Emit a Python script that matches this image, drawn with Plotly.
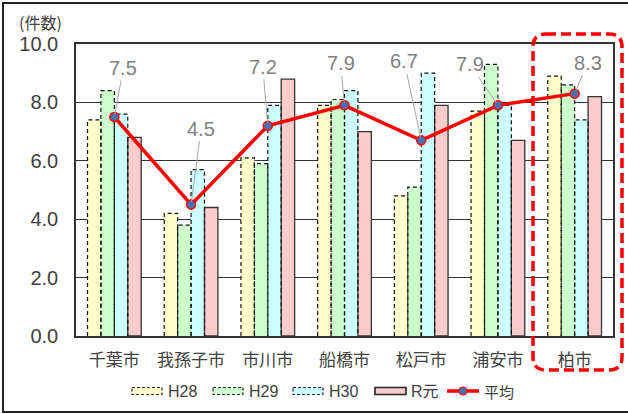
import plotly.graph_objects as go

# --- data -------------------------------------------------------------
cities = ["千葉市", "我孫子市", "市川市", "船橋市", "松戸市", "浦安市", "柏市"]
series_names = ["H28", "H29", "H30", "R元"]
h28 = [7.4, 4.2, 6.1, 7.9, 4.8, 7.7, 8.9]
h29 = [8.4, 3.8, 5.9, 8.1, 5.1, 9.3, 8.6]
h30 = [7.6, 5.7, 7.9, 8.4, 9.0, 7.9, 7.4]
r1 = [6.8, 4.4, 8.8, 7.0, 7.9, 6.7, 8.2]
average = [7.5, 4.5, 7.2, 7.9, 6.7, 7.9, 8.3]
avg_name = "平均"
y_ticks = [0, 2, 4, 6, 8, 10]

# --- styling ----------------------------------------------------------
fills = ["#FFFFCC", "#CCFFCC", "#CCFFFF", "#FFCCCC"]
dashed = [True, True, True, False]
BAR_W = 0.175
offsets = [-2 * BAR_W, -BAR_W, 0.0, BAR_W]
label_offsets = [(9, -49), (10, -76), (-5, -59), (-4, -42), (-17, -79), (-28, -41), (13, -31)]

LAT = "Liberation Sans, Arial, Noto Sans CJK JP"
CJK = "Noto Sans CJK JP, Liberation Sans"

W, H = 628, 414
PL, PT, PR, PB = 76, 44, 15, 78
PW, PH = W - PL - PR, H - PT - PB


def fx(p):
    return (p - PL) / PW


def fy(p):
    return (PT + PH - p) / PH


idx = list(range(len(cities)))
fig = go.Figure()

all_series = [h28, h29, h30, r1]
for name, vals, col, dsh, off in zip(series_names, all_series, fills, dashed, offsets):
    fig.add_trace(go.Bar(
        x=idx, y=vals, name=name, width=BAR_W, offset=off,
        marker=dict(color=col,
                    line=dict(color="#333333", width=0 if dsh else 1.3)),
        showlegend=False,
    ))

# dashed outlines for the H28-H30 bars
for vals, dsh, off in zip(all_series, dashed, offsets):
    if not dsh:
        continue
    xs, ys = [], []
    for i, v in zip(idx, vals):
        x0, x1 = i + off, i + off + BAR_W
        xs += [x0, x0, x1, x1, None]
        ys += [0, v, v, 0, None]
    fig.add_trace(go.Scatter(
        x=xs, y=ys, mode="lines", showlegend=False, hoverinfo="skip",
        line=dict(color="#111111", width=1.2, dash="4px,3px"),
    ))

# average line
fig.add_trace(go.Scatter(
    x=idx, y=average, mode="lines+markers", name=avg_name, showlegend=False,
    line=dict(color="#FF0000", width=3.5),
    marker=dict(size=9, color="#4A6FB5", line=dict(color="#FF0000", width=1.5)),
))

annotations = []
for i, v, (ax, ay) in zip(idx, average, label_offsets):
    annotations.append(dict(
        x=i, y=v, xref="x", yref="y", text=f"{v:.1f}",
        showarrow=True, arrowhead=0, arrowwidth=1, arrowcolor="#A6A6A6",
        ax=ax, ay=ay, standoff=3,
        font=dict(family=LAT, size=20, color="#7F7F7F"),
    ))

# axis unit label
annotations.append(dict(
    x=fx(17), y=fy(22), xref="paper", yref="paper", xanchor="left", yanchor="middle",
    text="(件数)", showarrow=False,
    font=dict(family=CJK, size=16, color="#404040"),
))

shapes = []

# custom legend
LEG_Y = 391
legend_items = [
    (132, 162, 166, 0),
    (213, 243, 247, 1),
    (293, 323, 327, 2),
    (375, 406, 409, 3),
]
for x0, x1, tx, k in legend_items:
    shapes.append(dict(
        type="rect", xref="paper", yref="paper",
        x0=fx(x0), x1=fx(x1), y0=fy(LEG_Y - 3.5), y1=fy(LEG_Y + 3.5),
        fillcolor=fills[k],
        line=dict(color="#222222", width=1.2 if dashed[k] else 1.6,
                  dash="3px,2px" if dashed[k] else "solid"),
    ))
    annotations.append(dict(
        x=fx(tx), y=fy(LEG_Y), xref="paper", yref="paper",
        xanchor="left", yanchor="middle", text=series_names[k], showarrow=False,
        font=dict(family=LAT, size=16, color="#404040"),
    ))
shapes.append(dict(
    type="line", xref="paper", yref="paper",
    x0=fx(447), x1=fx(479), y0=fy(LEG_Y), y1=fy(LEG_Y),
    line=dict(color="#FF0000", width=3.5),
))
shapes.append(dict(
    type="circle", xref="paper", yref="paper",
    x0=fx(459), x1=fx(467), y0=fy(LEG_Y - 4), y1=fy(LEG_Y + 4),
    fillcolor="#4A6FB5", line=dict(color="#FF0000", width=1.2),
))
annotations.append(dict(
    x=fx(482), y=fy(LEG_Y), xref="paper", yref="paper",
    xanchor="left", yanchor="middle", text=avg_name, showarrow=False,
    font=dict(family=CJK, size=15, color="#404040"),
))


# highlight box around the last city
def rounded_rect(l, t, r, b, rad):
    pts = [
        ("M", [(l + rad, t)]), ("L", [(r - rad, t)]), ("Q", [(r, t), (r, t + rad)]),
        ("L", [(r, b - rad)]), ("Q", [(r, b), (r - rad, b)]),
        ("L", [(l + rad, b)]), ("Q", [(l, b), (l, b - rad)]),
        ("L", [(l, t + rad)]), ("Q", [(l, t), (l + rad, t)]),
    ]
    out = []
    for cmd, ps in pts:
        out.append(cmd + " " + " ".join(f"{fx(x):.5f},{fy(y):.5f}" for x, y in ps))
    return " ".join(out) + " Z"


shapes.append(dict(
    type="path", xref="paper", yref="paper",
    path=rounded_rect(533, 34, 622, 370, 13),
    line=dict(color="#FF0000", width=3.5, dash="10px,5px"),
))

# outer frame
shapes.append(dict(
    type="rect", xref="paper", yref="paper",
    x0=fx(3), x1=fx(640), y0=fy(412), y1=fy(3),
    line=dict(color="#222222", width=2),
))

fig.update_layout(
    width=W, height=H,
    margin=dict(l=PL, r=PR, t=PT, b=PB, pad=0),
    paper_bgcolor="white", plot_bgcolor="white",
    barmode="overlay",
    showlegend=False,
    annotations=annotations,
    shapes=shapes,
    xaxis=dict(
        range=[-0.5, len(cities) - 0.5], tickvals=idx, ticktext=cities,
        showgrid=False, zeroline=False, ticks="",
        showline=True, linecolor="#333333", linewidth=1.5, mirror=True,
        tickfont=dict(family=CJK, size=17, color="#404040"),
        ticklabelstandoff=8,
    ),
    yaxis=dict(
        range=[0, 10], tickvals=y_ticks, tickformat=".1f",
        showgrid=True, gridcolor="#333333", gridwidth=1, zeroline=False, ticks="",
        showline=True, linecolor="#333333", linewidth=1.5, mirror=True,
        tickfont=dict(family=LAT, size=20, color="#404040"),
        ticklabelstandoff=12,
    ),
)

fig.write_html("out.html")
